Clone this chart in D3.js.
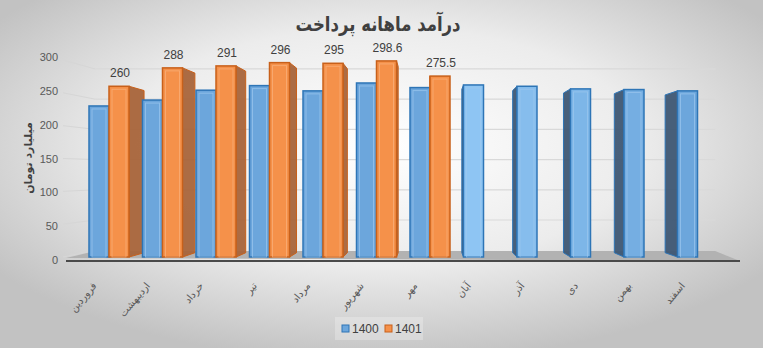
<!DOCTYPE html>
<html><head><meta charset="utf-8">
<script src="https://cdn.jsdelivr.net/npm/d3@7"></script>
<style>html,body{margin:0;padding:0;background:#fff;}svg{display:block;}</style>
</head><body>
<svg id="chart" width="763" height="348"></svg>
<script>
const title = "درآمد ماهانه پرداخت";
const yTitle = "میلیارد تومان";
const months = ["فروردین","اردیبهشت","خرداد","تیر","مرداد","شهریور","مهر","آبان","آذر","دی","بهمن","اسفند"];
const seriesNames = ["1400","1401"];
const values1400 = [230, 239, 254, 261, 253, 265, 258, 262, 260, 256, 255, 253];
const values1401 = [260, 288, 291, 296, 295, 298.6, 275.5];
const yTicks = [0, 50, 100, 150, 200, 250, 300];

const svg = d3.select("#chart");
const W = 763, H = 348;
const defs = svg.append("defs");
const bg = defs.append("radialGradient").attr("id","bg").attr("cx","50%").attr("cy","42%").attr("r","62%");
bg.append("stop").attr("offset","0%").attr("stop-color","#ffffff");
bg.append("stop").attr("offset","55%").attr("stop-color","#ececec");
bg.append("stop").attr("offset","100%").attr("stop-color","#c2c2c2");
svg.append("rect").attr("width",W).attr("height",H).attr("fill","url(#bg)");

// perspective helpers
const vp = [430, 172];
const P = (x, y, k) => [x + k*(vp[0]-x), y + k*(vp[1]-y)];
const kBar = 0.05, kWall = 0.08;

const x = d3.scaleBand().domain(months).range([82.25, 724.25]).padding(0);
const xs = d3.scaleBand().domain(seriesNames).range([6.75, 46.75]).padding(0);
const yBar = d3.scaleLinear().domain([0, 300]).range([257, 60]);
const yLbl = d3.scaleLinear().domain([0, 300]).range([260, 57]);

const wallL = 66, wallR = 740;
// gridlines (left wall + back wall)
const grid = svg.append("g");
yTicks.forEach(v => {
  const fy = yBar(v);
  const bl = P(wallL, fy, kWall), br = P(wallR, fy, kWall);
  grid.append("line").attr("x1", wallL-3).attr("y1", fy).attr("x2", bl[0]).attr("y2", bl[1])
    .attr("stroke","#d6d6d6").attr("stroke-width",1);
  if (v > 0) grid.append("line").attr("x1", bl[0]).attr("y1", bl[1]).attr("x2", br[0]).attr("y2", br[1])
    .attr("stroke","#d9d9d9").attr("stroke-width",1.2);
});

// floor
const fl = P(wallL, 258, kWall), fr = P(wallR, 258, kWall);
svg.append("path").attr("d", d3.line()([[wallL,258],[wallR,261],[fr[0],fr[1]],[fl[0],fl[1]]]) + "Z")
  .attr("fill","#b2b2b2");
svg.append("line").attr("x1", wallL).attr("x2", wallR).attr("y1", 261).attr("y2", 261)
  .attr("stroke","#4a4a4a").attr("stroke-width",2);

// y axis labels
const yAxis = d3.axisLeft(yLbl).tickValues(yTicks).tickSize(0).tickPadding(0);
const ya = svg.append("g").attr("transform","translate(58,0)").call(yAxis);
ya.select(".domain").remove();
ya.selectAll("text").attr("font-family","Liberation Sans, Arial, sans-serif").attr("font-size",11).attr("fill","#595959");

svg.append("text").attr("transform","translate(32,158) rotate(-90)").attr("text-anchor","middle")
  .attr("font-family","DejaVu Sans, sans-serif").attr("font-weight","bold").attr("font-size",11)
  .attr("fill","#404040").text(yTitle);

svg.append("text").attr("x", 378).attr("y", 31).attr("text-anchor","middle")
  .attr("font-family","DejaVu Sans, sans-serif").attr("font-weight","bold").attr("font-size",20)
  .attr("textLength",165).attr("lengthAdjust","spacingAndGlyphs")
  .attr("fill","#404040").text(title);

// bars
const blueBase = "#6ca6dc", blueLight = "#8ec5f3";
const bars = [];
months.forEach((m, i) => {
  const t = i < 7 ? 1 : Math.min(1, (i-7)/4);
  bars.push({i, s:"1400", v: values1400[i], front: d3.interpolateRgb(blueLight, blueBase)(t),
    stroke:"#2e75b6", side:"#3e5774", inner:"#9cc8ee"});
  if (values1401[i] != null) bars.push({i, s:"1401", v: values1401[i], front:"#f5914a",
    stroke:"#c8601a", side:"#a8643a", inner:"#f9b27e"});
});
bars.forEach(b => {
  b.x0 = x(months[b.i]) + xs(b.s); b.x1 = b.x0 + xs.bandwidth();
  b.cx = (b.x0 + b.x1)/2; b.yt = yBar(b.v); b.yb = yBar(0);
});
// draw far-from-vanishing-point bars first
bars.sort((a,b) => Math.abs(b.cx - vp[0]) - Math.abs(a.cx - vp[0]));
const gb = svg.append("g");
bars.forEach(b => {
  const leftSide = b.cx > vp[0];
  const ex = leftSide ? b.x0 : b.x1;
  const t1 = P(ex, b.yt, kBar), t2 = P(ex, b.yb, kBar);
  gb.append("path").attr("d", d3.line()([[ex,b.yt],t1,t2,[ex,b.yb]]) + "Z")
    .attr("fill", b.side).attr("stroke", b.stroke).attr("stroke-width",1).attr("fill-opacity",0.95);
  gb.append("rect").attr("x", b.x0).attr("y", b.yt).attr("width", b.x1-b.x0).attr("height", b.yb-b.yt)
    .attr("fill", b.front).attr("stroke", b.stroke).attr("stroke-width",1.5);
  gb.append("rect").attr("x", b.x0+3).attr("y", b.yt+3).attr("width", b.x1-b.x0-6).attr("height", b.yb-b.yt-3)
    .attr("fill","none").attr("stroke", b.inner).attr("stroke-width",1).attr("opacity",0.7);
});

// data labels for 1401
svg.append("g").selectAll("text").data(values1401).join("text")
  .attr("x", (d,i) => x(months[i]) + xs("1401") + xs.bandwidth()/2 + 1)
  .attr("y", d => yBar(d) - 9)
  .attr("text-anchor","middle").attr("font-family","Liberation Sans, Arial, sans-serif")
  .attr("font-size",12).attr("fill","#404040").text(d => d);

// category labels
svg.append("g").selectAll("text").data(months).join("text")
  .attr("transform", m => `translate(${x(m) + x.bandwidth()/2 - 12},${286}) rotate(-50)`)
  .attr("text-anchor","end").attr("font-family","DejaVu Sans, sans-serif")
  .attr("font-size",10).attr("fill","#595959").text(m => m);

// legend
const lg = svg.append("g");
lg.append("rect").attr("x",335).attr("y",317).attr("width",88).attr("height",23).attr("fill","#ffffff").attr("opacity",0.25);
const legendColors = {"1400":["#6ca6dc","#2e75b6"], "1401":["#f5914a","#c8601a"]};
const lx = {"1400":342, "1401":385};
seriesNames.forEach(s => {
  lg.append("rect").attr("x", lx[s]).attr("y", 325).attr("width",7).attr("height",7)
    .attr("fill", legendColors[s][0]).attr("stroke", legendColors[s][1]).attr("stroke-width",1);
  lg.append("text").attr("x", lx[s]+10).attr("y", 333).attr("font-family","Liberation Sans, Arial, sans-serif")
    .attr("font-size",12).attr("fill","#404040").text(s);
});
</script>
</body></html>
